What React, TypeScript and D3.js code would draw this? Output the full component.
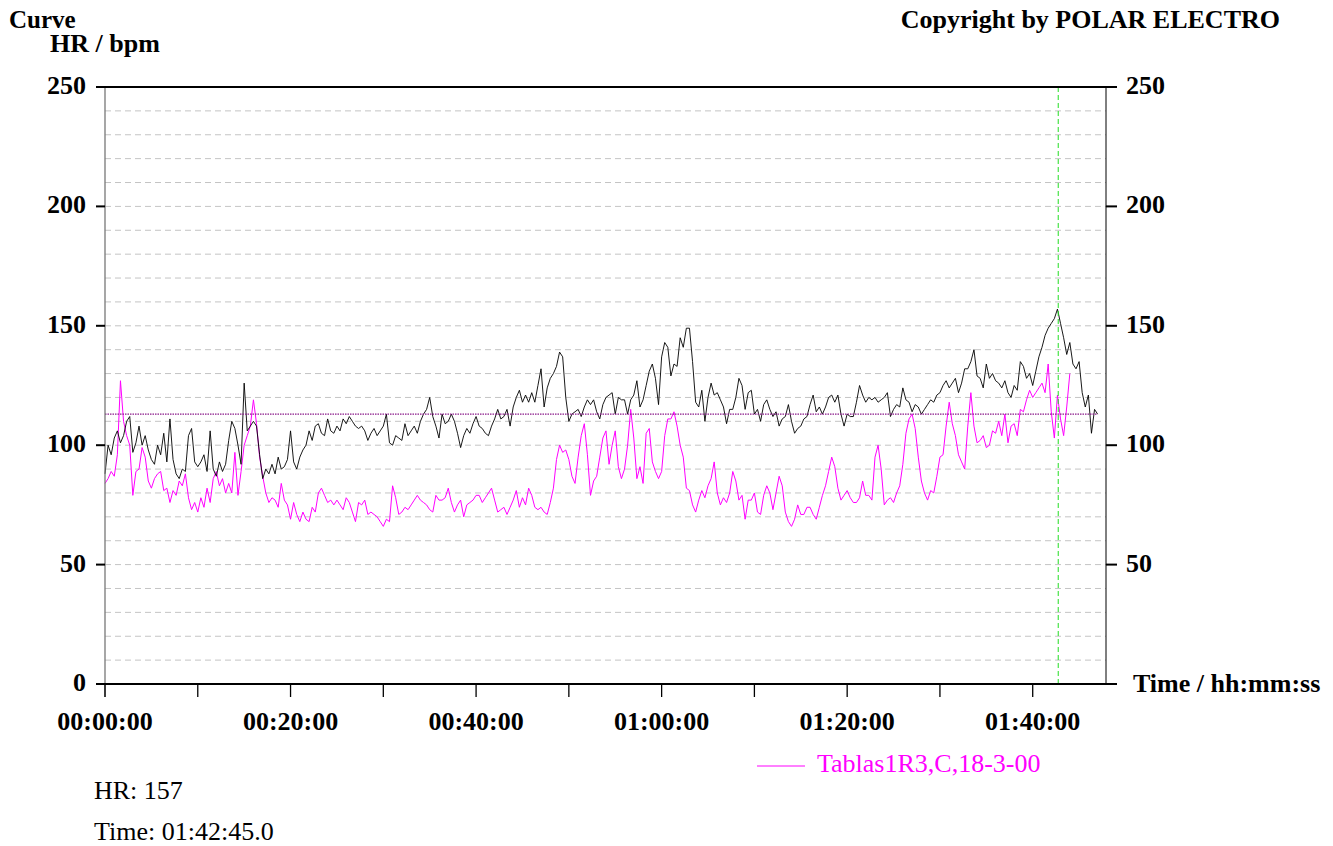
import React from "react";
import * as d3 from "d3";

// Sampling interval of both recordings (seconds)
const SAMPLE_SEC = 20;

// Reference session (black) heart rate, bpm, one value every 20 s
const hrBlack: number[] = [
  88, 100, 96, 103, 106, 101, 104, 110, 112, 97,
  101, 108, 100, 104, 98, 94, 92, 100, 96, 105,
  93, 111, 94, 88, 86, 90, 89, 104, 107, 93,
  91, 93, 96, 89, 106, 90, 87, 93, 89, 92,
  102, 110, 107, 100, 92, 126, 106, 108, 110, 108,
  96, 86, 90, 88, 92, 88, 95, 90, 91, 94,
  106, 93, 90, 95, 98, 100, 106, 102, 108, 109,
  105, 104, 111, 106, 105, 108, 106, 111, 109, 112,
  110, 108, 107, 108, 106, 102, 105, 107, 104, 106,
  108, 113, 101, 100, 104, 103, 102, 109, 104, 106,
  108, 105, 110, 113, 115, 120, 112, 108, 103, 113,
  109, 110, 113, 110, 105, 99, 104, 107, 105, 109,
  112, 108, 107, 105, 104, 108, 111, 115, 111, 112,
  115, 108, 116, 120, 123, 118, 121, 118, 122, 118,
  125, 132, 116, 124, 128, 130, 133, 139, 137, 120,
  110, 113, 114, 115, 112, 116, 119, 117, 119, 114,
  111, 117, 120, 121, 122, 113, 120, 119, 119, 113,
  119, 121, 127, 116, 119, 125, 131, 134, 128, 117,
  137, 143, 141, 129, 134, 133, 145, 141, 149, 149,
  135, 118, 116, 123, 110, 120, 126, 121, 122, 119,
  116, 109, 115, 115, 120, 128, 125, 115, 122, 123,
  113, 115, 110, 117, 119, 115, 112, 114, 108, 111,
  112, 117, 110, 105, 107, 108, 111, 112, 117, 121,
  114, 116, 113, 116, 120, 121, 118, 121, 113, 108,
  113, 112, 112, 118, 125, 121, 118, 120, 119, 120,
  118, 119, 120, 122, 112, 115, 117, 116, 124, 119,
  118, 114, 117, 116, 113, 115, 117, 119, 118, 121,
  122, 125, 127, 124, 126, 128, 122, 126, 132, 132,
  135, 140, 129, 128, 124, 134, 128, 130, 127, 126,
  124, 127, 122, 120, 125, 123, 135, 133, 128, 130,
  125, 131, 137, 141, 146, 149, 151, 153, 157, 151,
  145, 138, 143, 134, 132, 135, 122, 116, 121, 105,
  115, 113,
];

// "Tablas1R3,C,18-3-00" session (magenta) heart rate, bpm, one value every 20 s
const hrMagenta: number[] = [
  84, 86, 89, 87, 96, 127, 110, 104, 100, 79,
  89, 90, 99, 95, 85, 82, 86, 88, 89, 81,
  82, 76, 81, 79, 85, 83, 88, 78, 73, 76,
  72, 78, 74, 82, 76, 86, 89, 83, 86, 80,
  84, 80, 97, 79, 89, 100, 104, 108, 119, 109,
  95, 87, 80, 76, 78, 77, 74, 84, 77, 75,
  69, 76, 71, 68, 72, 69, 68, 74, 72, 80,
  82, 79, 76, 77, 75, 77, 75, 73, 78, 76,
  72, 68, 76, 75, 77, 71, 72, 71, 70, 68,
  66, 69, 68, 83, 78, 71, 72, 74, 73, 75,
  77, 79, 77, 76, 75, 73, 72, 79, 77, 77,
  78, 82, 76, 72, 75, 77, 70, 75, 76, 77,
  79, 79, 76, 78, 80, 82, 77, 72, 73, 74,
  71, 74, 77, 81, 74, 78, 75, 82, 79, 74,
  73, 74, 72, 71, 76, 82, 94, 100, 97, 98,
  94, 87, 84, 95, 104, 109, 96, 79, 85, 87,
  95, 103, 106, 92, 100, 106, 91, 86, 90, 100,
  115, 103, 86, 91, 84, 105, 107, 93, 89, 86,
  89, 104, 111, 111, 114, 108, 100, 95, 82, 81,
  75, 72, 77, 81, 78, 83, 86, 93, 80, 75,
  78, 76, 80, 89, 85, 77, 79, 69, 77, 77,
  80, 72, 71, 79, 83, 80, 73, 80, 87, 83,
  72, 68, 66, 69, 75, 71, 71, 74, 74, 71,
  69, 74, 79, 83, 89, 95, 91, 82, 77, 79,
  81, 78, 76, 76, 78, 85, 79, 79, 77, 95,
  100, 90, 75, 77, 78, 76, 80, 83, 92, 105,
  111, 113, 107, 95, 85, 80, 77, 81, 80, 87,
  95, 96, 108, 118, 109, 104, 96, 93, 90, 108,
  122, 108, 101, 102, 104, 99, 100, 106, 105, 110,
  104, 113, 101, 108, 109, 104, 115, 114, 119, 123,
  120, 122, 124, 126, 122, 134, 114, 103, 121, 111,
  104, 116, 130,
];

const yMajorTicks = [0, 50, 100, 150, 200, 250];
const yRightLabels = [50, 100, 150, 200, 250];
const yGridValues = [10, 20, 30, 40, 50, 60, 70, 80, 90, 100, 110, 120, 130, 140, 150, 160, 170, 180, 190, 200, 210, 220, 230, 240];
const xTickMinutes = [0, 10, 20, 30, 40, 50, 60, 70, 80, 90, 100];
const xLabelMinutes = [0, 20, 40, 60, 80, 100];
const X_MAX_MIN = 107.9;
const AVG_LINE = 113;
const CURSOR_MIN = 102.75;
const CURSOR_HR = 157;
const CURSOR_TIME = "01:42:45.0";
const legendLabel = "Tablas1R3,C,18-3-00";

const fmt = (m: number) => {
  const s = Math.round(m * 60);
  const hh = Math.floor(s / 3600);
  const mm = Math.floor((s % 3600) / 60);
  const ss = s % 60;
  const p = (n: number) => String(n).padStart(2, "0");
  return `${p(hh)}:${p(mm)}:${p(ss)}`;
};

const FONT = "'Liberation Serif', 'Times New Roman', Times, serif";

export default function App() {
  const L = 105, R = 1106, T = 87, B = 684;
  const x = d3.scaleLinear().domain([0, X_MAX_MIN]).range([L, R]);
  const y = d3.scaleLinear().domain([0, 250]).range([B, T]);

  const line = d3
    .line<number>()
    .x((_, i) => x((i * SAMPLE_SEC) / 60))
    .y((d) => y(d));

  const blackEnd = ((hrBlack.length - 1) * SAMPLE_SEC) / 60;

  return (
    <svg
      width={1333}
      height={846}
      style={{ position: "absolute", left: 0, top: 0, background: "#fff" }}
      fontFamily={FONT}
    >
      {/* grid */}
      {yGridValues.map((v) => (
        <line key={"g" + v} x1={L} x2={R} y1={y(v)} y2={y(v)} stroke="#c4c4c4" strokeWidth={1} strokeDasharray="6,4" />
      ))}

      {/* data */}
      <path d={line(hrMagenta) || ""} fill="none" stroke="#ff00ff" strokeWidth={1} />
      <path d={line(hrBlack) || ""} fill="none" stroke="#000" strokeWidth={0.9} />

      {/* average line */}
      <line x1={x(0)} x2={x(blackEnd)} y1={y(AVG_LINE)} y2={y(AVG_LINE)} stroke="#8b1a8b" strokeWidth={1.2} strokeDasharray="1.5,1" />

      {/* cursor */}
      <line x1={x(CURSOR_MIN)} x2={x(CURSOR_MIN)} y1={T} y2={B} stroke="#22dd22" strokeWidth={1} strokeDasharray="5,3" />

      {/* frame */}
      <line x1={L} x2={L} y1={T} y2={B + 13} stroke="#777" strokeWidth={1.3} />
      <line x1={R} x2={R} y1={T} y2={B} stroke="#000" strokeWidth={1} />
      <line x1={L - 9} x2={R + 11} y1={T} y2={T} stroke="#000" strokeWidth={2} />
      <line x1={L - 9} x2={R + 11} y1={B} y2={B} stroke="#000" strokeWidth={2.2} />

      {/* y ticks & labels */}
      {yMajorTicks.map((v) => (
        <g key={"y" + v}>
          <line x1={L - 9} x2={L} y1={y(v)} y2={y(v)} stroke="#000" strokeWidth={2} />
          <line x1={R} x2={R + 11} y1={y(v)} y2={y(v)} stroke="#000" strokeWidth={2} />
          <text x={86} y={y(v) + 7} textAnchor="end" fontSize={26} fontWeight="bold">{v}</text>
        </g>
      ))}
      {yRightLabels.map((v) => (
        <text key={"yr" + v} x={1126} y={y(v) + 7} textAnchor="start" fontSize={26} fontWeight="bold">{v}</text>
      ))}

      {/* x ticks & labels */}
      {xTickMinutes.map((m) => (
        <line key={"xt" + m} x1={x(m)} x2={x(m)} y1={B} y2={B + 13} stroke="#000" strokeWidth={1.3} />
      ))}
      {xLabelMinutes.map((m) => (
        <text key={"xl" + m} x={x(m)} y={730} textAnchor="middle" fontSize={26} fontWeight="bold">{fmt(m)}</text>
      ))}

      {/* titles */}
      <text x={9} y={28} fontSize={25} fontWeight="bold">Curve</text>
      <text x={50} y={52} fontSize={26} fontWeight="bold">HR / bpm</text>
      <text x={1280} y={28} textAnchor="end" fontSize={26} fontWeight="bold">Copyright by POLAR ELECTRO</text>
      <text x={1133} y={692} fontSize={26} fontWeight="bold">Time / hh:mm:ss</text>

      {/* legend */}
      <line x1={757} x2={805} y1={766} y2={766} stroke="#ff00ff" strokeWidth={1} />
      <text x={817} y={772} fontSize={26} fill="#ff00ff">{legendLabel}</text>

      {/* cursor readout */}
      <text x={94} y={799} fontSize={26}>HR: {CURSOR_HR}</text>
      <text x={94} y={840} fontSize={26}>Time: {CURSOR_TIME}</text>
    </svg>
  );
}
